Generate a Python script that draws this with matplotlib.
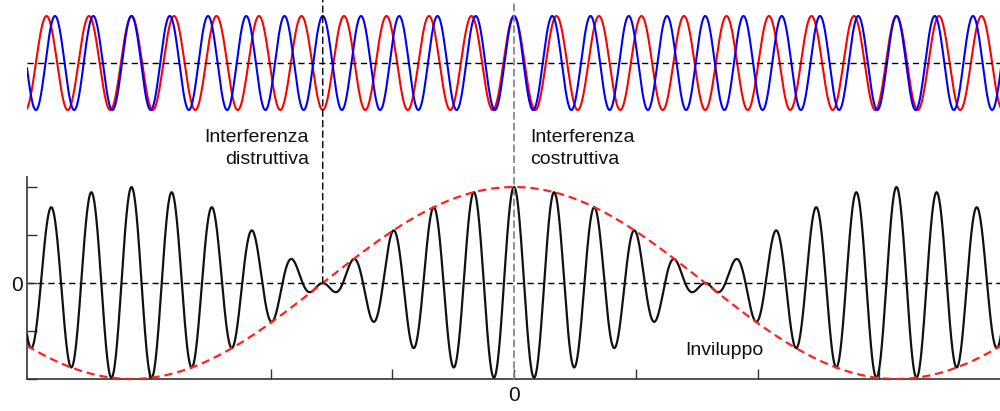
import numpy as np
import matplotlib
matplotlib.use("Agg")
import matplotlib.pyplot as plt
from matplotlib.patches import ConnectionPatch
from matplotlib.transforms import blended_transform_factory

plt.rcParams['font.family'] = ['Liberation Sans', 'DejaVu Sans']

# parametri delle due onde (unita' dell'asse x)
x_min, x_max = -4.0, 4.0
omega_blue = 20.0
omega_red = 18.0
amplitude = 1.0

x_ticks = [-3, -2, -1, 0, 1, 2, 3]
y_ticks = [-2, -1, 0, 1, 2]
x_destr = -np.pi / 2   # interferenza distruttiva
x_costr = 0.0          # interferenza costruttiva

x = np.linspace(x_min, x_max, 4000)
blue = amplitude * np.cos(omega_blue * x)
red = amplitude * np.cos(omega_red * x)
total = blue + red
envelope = 2 * amplitude * np.cos((omega_blue - omega_red) / 2 * x)

fig = plt.figure(figsize=(10, 4.11), dpi=100)

# pannello superiore: le due onde
ax1 = fig.add_axes([0.027, 0.6934, 0.974, 0.3066])
ax1.plot(x, red, color='#ff0000', lw=1.5)
ax1.plot(x, blue, color='#0000ff', lw=1.5)
ax1.axhline(0, color='black', lw=1.0, dashes=(4.5, 3))
ax1.set_xlim(x_min, x_max)
ax1.set_ylim(-1.34, 1.34)
ax1.axis('off')

# pannello inferiore: somma e inviluppo
ax2 = fig.add_axes([0.027, 0.0779, 0.974, 0.4915])
ax2.axhline(0, color='black', lw=1.0, dashes=(4.5, 3), zorder=1)
ax2.plot(x, total, color='#111111', lw=1.6, zorder=3)
ax2.plot(x, envelope, color='#ff2020', lw=1.6, dashes=(3.7, 2.2), zorder=4)
ax2.set_xlim(x_min, x_max)
ax2.set_ylim(-2, 2.21)
ax2.set_xticks(x_ticks)
ax2.set_xticklabels(['0' if t == 0 else '' for t in x_ticks])
ax2.set_yticks(y_ticks)
ax2.set_yticklabels(['0' if t == 0 else '' for t in y_ticks])
ax2.tick_params(direction='in', length=7.2, width=1.0, color='#333333',
                labelsize=15, labelcolor='#111111')
ax2.tick_params(axis='x', pad=5)
ax2.tick_params(axis='y', pad=3)
for side in ['top', 'right']:
    ax2.spines[side].set_visible(False)
for side in ['left', 'bottom']:
    ax2.spines[side].set_color('#333333')
    ax2.spines[side].set_linewidth(1.2)

# linee verticali tratteggiate
top_tr = blended_transform_factory(ax2.transData, fig.transFigure)
destr = ConnectionPatch(xyA=(x_destr, 0), coordsA=ax2.transData,
                        xyB=(x_destr, 1), coordsB=top_tr,
                        arrowstyle='-', color='black', lw=1.0,
                        linestyle=(0, (4.5, 3)), zorder=5)
fig.add_artist(destr)
costr = ConnectionPatch(xyA=(x_costr, -2), coordsA=ax2.transData,
                        xyB=(x_costr, 1), coordsB=top_tr,
                        arrowstyle='-', color='#888888', lw=1.3,
                        linestyle=(0, (3.5, 2.5)), zorder=5)
fig.add_artist(costr)

# testi
fig.text(0.309, (411 - 142) / 411, 'Interferenza', ha='right', va='baseline',
         fontsize=14, color='#111111')
fig.text(0.309, (411 - 164) / 411, 'distruttiva', ha='right', va='baseline',
         fontsize=14, color='#111111')
fig.text(0.530, (411 - 142) / 411, 'Interferenza', ha='left', va='baseline',
         fontsize=14, color='#111111')
fig.text(0.530, (411 - 164) / 411, 'costruttiva', ha='left', va='baseline',
         fontsize=14, color='#111111')
fig.text(0.685, (411 - 355) / 411, 'Inviluppo', ha='left', va='baseline',
         fontsize=14, color='#111111')

fig.savefig('out.png', dpi=100)
